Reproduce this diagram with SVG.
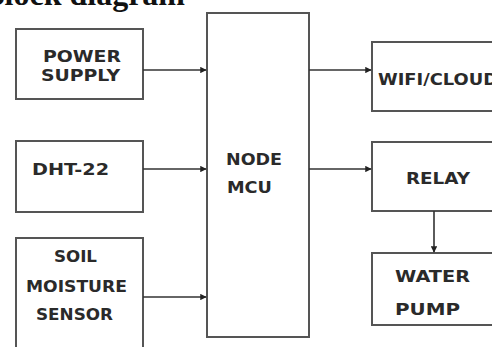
<svg xmlns="http://www.w3.org/2000/svg" width="492" height="347" viewBox="0 0 492 347">
<defs>
<style>
.box{fill:#fff;stroke:#555;stroke-width:2}
.lbl{font-family:"DejaVu Sans","Liberation Sans",sans-serif;font-weight:bold;font-size:16px;fill:#2a2a2a}
.con{stroke:#333;stroke-width:1.6;fill:none;marker-end:url(#ah)}
.title{font-family:"Liberation Serif",serif;font-weight:bold;font-size:32px;fill:#111}
</style>
<marker id="ah" viewBox="0 0 10 10" refX="9" refY="5" markerWidth="4" markerHeight="4" orient="auto" markerUnits="strokeWidth">
<path d="M0,0 L10,5 L0,10 z" fill="#222"/>
</marker>
</defs>
<rect width="492" height="347" fill="#fff"/>
<text class="title" x="185" y="5" text-anchor="end">Block diagram</text>
<g id="power">
<rect class="box" x="16" y="29" width="127" height="70"/>
<text class="lbl" x="43" y="62" textLength="78" lengthAdjust="spacingAndGlyphs">POWER</text>
<text class="lbl" x="41" y="81" textLength="79" lengthAdjust="spacingAndGlyphs">SUPPLY</text>
</g>
<g id="dht22">
<rect class="box" x="16" y="141" width="127" height="71"/>
<text class="lbl" x="32" y="175" textLength="77" lengthAdjust="spacingAndGlyphs">DHT-22</text>
</g>
<g id="soil">
<rect class="box" x="16" y="238" width="127" height="130"/>
<text class="lbl" x="54" y="262" textLength="43" lengthAdjust="spacingAndGlyphs">SOIL</text>
<text class="lbl" x="26" y="292" textLength="101" lengthAdjust="spacingAndGlyphs">MOISTURE</text>
<text class="lbl" x="36" y="320" textLength="77" lengthAdjust="spacingAndGlyphs">SENSOR</text>
</g>
<g id="nodemcu">
<rect class="box" x="207" y="13" width="102" height="324"/>
<text class="lbl" x="226" y="165" textLength="56" lengthAdjust="spacingAndGlyphs">NODE</text>
<text class="lbl" x="227" y="193" textLength="45" lengthAdjust="spacingAndGlyphs">MCU</text>
</g>
<g id="wifi">
<rect class="box" x="372" y="42" width="140" height="69"/>
<text class="lbl" x="378" y="85" textLength="120" lengthAdjust="spacingAndGlyphs">WIFI/CLOUD</text>
</g>
<g id="relay">
<rect class="box" x="372" y="142" width="140" height="69"/>
<text class="lbl" x="406" y="184" textLength="64" lengthAdjust="spacingAndGlyphs">RELAY</text>
</g>
<g id="pump">
<rect class="box" x="372" y="253" width="140" height="72"/>
<text class="lbl" x="395" y="282" textLength="75" lengthAdjust="spacingAndGlyphs">WATER</text>
<text class="lbl" x="395" y="315" textLength="65" lengthAdjust="spacingAndGlyphs">PUMP</text>
</g>
<g id="connectors">
<line class="con" x1="143" y1="70" x2="206" y2="70"/>
<line class="con" x1="143" y1="169" x2="206" y2="169"/>
<line class="con" x1="143" y1="297" x2="206" y2="297"/>
<line class="con" x1="309" y1="70" x2="371" y2="70"/>
<line class="con" x1="309" y1="169" x2="371" y2="169"/>
<line class="con" x1="434" y1="211" x2="434" y2="252"/>
</g>
</svg>
